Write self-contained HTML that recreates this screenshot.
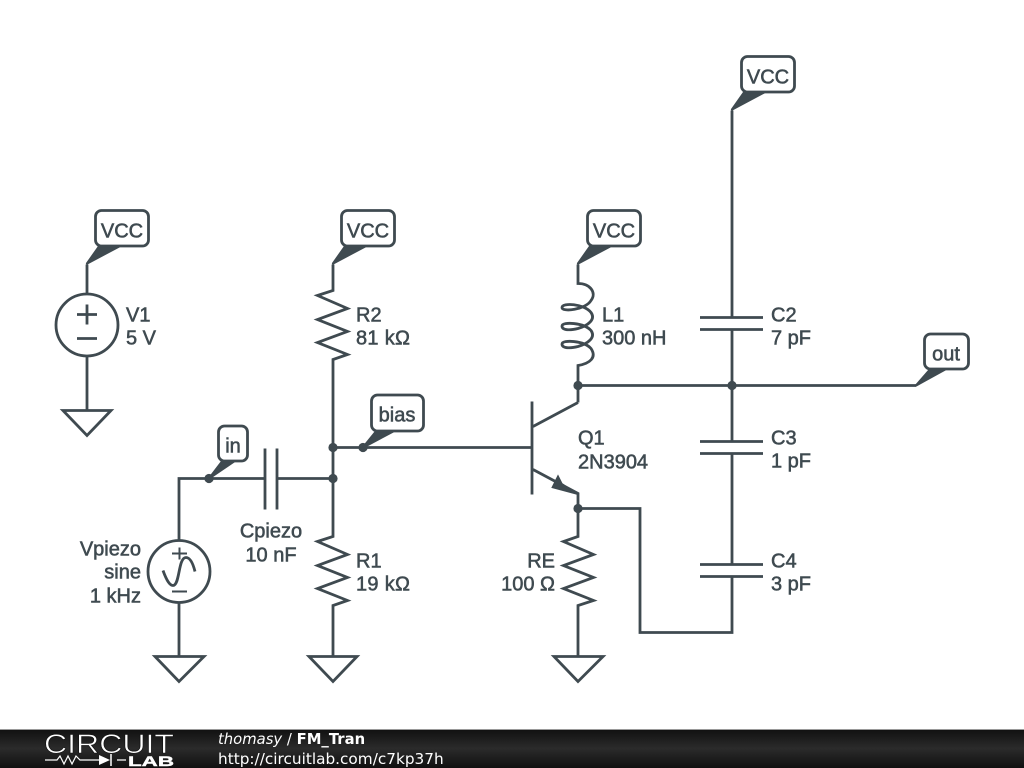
<!DOCTYPE html>
<html><head><meta charset="utf-8"><title>FM_Tran</title>
<style>
html,body{margin:0;padding:0;background:#fff;width:1024px;height:768px;overflow:hidden}
svg{display:block}
.w{fill:none;stroke:#3f4a50;stroke-width:2.8;stroke-linejoin:miter}
.t{font-family:"Liberation Sans",sans-serif;font-size:20px;fill:#3f4a50;stroke:#3f4a50;stroke-width:.55}
.b{fill:#fff;stroke:#3f4a50;stroke-width:2.8}
.f{font-family:"DejaVu Sans",sans-serif;fill:#fff}
</style></head><body>
<svg width="1024" height="768" viewBox="0 0 1024 768" xmlns="http://www.w3.org/2000/svg">
<defs><linearGradient id="g" x1="0" y1="0" x2="0" y2="1"><stop offset="0" stop-color="#101010"/><stop offset=".5" stop-color="#2b2b2b"/><stop offset="1" stop-color="#101010"/></linearGradient></defs>

<g transform="translate(0,.5)">
<!-- wires -->
<path class="w" d="M87 264V293M87 356V410M63 410H111L87 435Z"/>
<path class="w" d="M333 264V290L317.5 295L347.5 308L317.5 319L347.5 331L317.5 342L347.5 354L333 359V536L317.5 541L347.5 554L317.5 565L347.5 577L317.5 588L347.5 600L333 605V656"/>
<path class="w" d="M309 656H357L333 681Z"/>
<path class="w" d="M578 508V536L563.5 541L593.5 554L563.5 565L593.5 577L563.5 588L593.5 600L578 605V656"/>
<path class="w" d="M554 656H603L578 681Z"/>
<path class="w" d="M155 656H204L179 681Z"/>
<path class="w" d="M179 602V656M179 540V478H265M277 478H333"/>
<path class="w" d="M265 448V509M277 448V509"/>
<path class="w" d="M333 447H532"/>
<!-- inductor -->
<path class="w" d="M578 264V283C590 283 597 292 591 300C586 309 562 312 562 307C562 302 584 303 591 312C596 319 588 325 578 328C570 330 562 330 562 325.500C562 321 584 322 591 330C596 337 588 343 578 346C570 348 562 348 562 343.500C562 339 584 340 591 348C597 357 590 363 578 365V402"/>
<!-- transistor -->
<path class="w" d="M532 401V494M533 426L578 402M533 469L578 493V508H640V632H732V576M578 385H916"/>
<path d="M558 475L552 487L578 494L562 483Z" fill="#3f4a50" stroke="#3f4a50" stroke-width="1"/>
<!-- caps -->
<path class="w" d="M732 110V317M732 329V441M732 453V564M700 317H763M700 329H763M700 441H763M700 453H763M700 564H763M700 576H763"/>
<!-- sources -->
<circle class="w" cx="87" cy="324.5" r="31"/>
<path class="w" d="M77 314H97M87 304V324M77 338H97"/>
<circle class="w" cx="179" cy="571" r="31"/>
<path class="w" d="M172 553H187M179.500 547V559M172 591H187" style="stroke-width:2"/>
<path class="w" d="M163 570C167 581 170 585 173 585C180 585 178 557 186 557C190 557 193 563 195 571"/>
<!-- dots -->
<g fill="#3f4a50"><circle cx="333" cy="447" r="4.6"/><circle cx="363" cy="447" r="4.6"/><circle cx="333" cy="478" r="4.6"/><circle cx="209" cy="478" r="4.6"/><circle cx="578" cy="385" r="4.6"/><circle cx="732" cy="385" r="4.6"/><circle cx="578" cy="508" r="4.6"/></g>
<!-- tags -->
<g fill="#3f4a50" stroke="#3f4a50" stroke-width="2.2" stroke-linejoin="round">
<path d="M87 263L99 246H119Z"/><path d="M333 263L345 246H365Z"/><path d="M578 263L590 246H610Z"/><path d="M732 109L744 92H764Z"/>
<path d="M363 447L376 431H393Z"/><path d="M209 478L222 461H234Z"/><path d="M916 385L930 369H945Z"/>
</g>
<rect class="b" x="95.500" y="210" width="53" height="35.500" rx="6"/>
<rect class="b" x="341.500" y="210" width="53" height="35.500" rx="6"/>
<rect class="b" x="587.500" y="210" width="53" height="35.500" rx="6"/>
<rect class="b" x="741.500" y="56" width="53" height="35.500" rx="6"/>
<rect class="b" x="371.500" y="394.500" width="52" height="36" rx="6"/>
<rect class="b" x="218.500" y="425.500" width="29" height="35" rx="6"/>
<rect class="b" x="924.500" y="333.500" width="44" height="35" rx="6"/>
<g class="t" text-anchor="middle">
<text x="122" y="237">VCC</text><text x="368" y="237">VCC</text><text x="614" y="237">VCC</text><text x="768" y="83">VCC</text>
<text x="397" y="421">bias</text><text x="233" y="452">in</text><text x="946" y="360">out</text>
<text x="271" y="537">Cpiezo</text><text x="271" y="561">10 nF</text>
</g>
<g class="t">
<text x="126" y="321">V1</text><text x="126" y="344">5 V</text>
<text x="356" y="321">R2</text><text x="356" y="344" textLength="54">81 kΩ</text>
<text x="356" y="567">R1</text><text x="356" y="590" textLength="54">19 kΩ</text>
<text x="602" y="321">L1</text><text x="602" y="344">300 nH</text>
<text x="578" y="444">Q1</text><text x="578" y="468">2N3904</text>
<text x="771" y="321">C2</text><text x="771" y="344">7 pF</text>
<text x="771" y="444">C3</text><text x="771" y="467">1 pF</text>
<text x="771" y="567">C4</text><text x="771" y="590">3 pF</text>
</g>
<g class="t" text-anchor="end">
<text x="141" y="555">Vpiezo</text><text x="141" y="578">sine</text><text x="141" y="602">1 kHz</text>
<text x="555" y="567">RE</text><text x="555" y="590">100 Ω</text>
</g>
</g>
<!-- footer -->
<rect x="0" y="729" width="1024" height="39" fill="url(#g)"/>
<rect x="0" y="729" width="1024" height="1" fill="#999"/>
<text x="44" y="753" font-family="Liberation Sans,sans-serif" font-size="27" fill="#fff" stroke="#111" stroke-width=".6" textLength="130" lengthAdjust="spacingAndGlyphs">CIRCUIT</text>
<path d="M45 760H57L60 756L64 764L68 756L72 764L76 756L80 760H99M117 760H126" fill="none" stroke="#fff" stroke-width="1.200"/>
<path d="M99 755V765L110 760Z" fill="#fff"/><path d="M111 754V766" stroke="#fff" stroke-width="1.500"/>
<text x="128" y="766" font-family="Liberation Sans,sans-serif" font-size="14" font-weight="bold" fill="#fff" stroke="#fff" stroke-width=".4" textLength="46" lengthAdjust="spacingAndGlyphs">LAB</text>
<text class="f" x="218" y="744" font-size="14.800"><tspan font-style="italic">thomasy</tspan> / <tspan font-weight="bold">FM_Tran</tspan></text>
<text class="f" x="218" y="764" font-size="15.300">http://circuitlab.com/c7kp37h</text>
</svg>
</body></html>
